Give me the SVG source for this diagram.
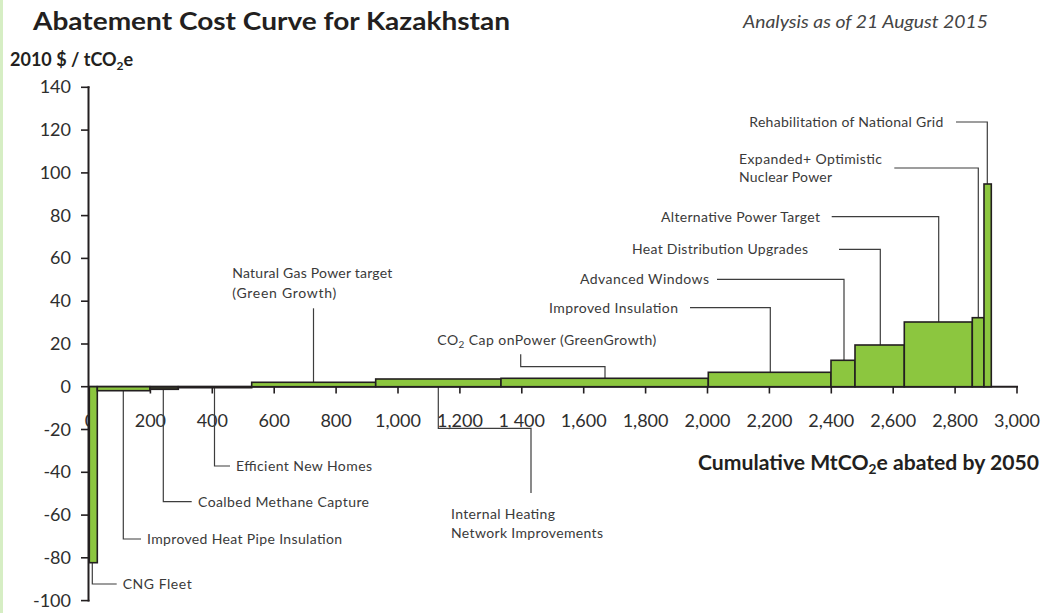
<svg xmlns="http://www.w3.org/2000/svg" width="1049" height="613" viewBox="0 0 1049 613">
<style>
.bar{fill:#8cc63f;stroke:#231f20;stroke-width:1.6}
.axis{stroke:#231f20;stroke-width:2;fill:none}
.tick{stroke:#231f20;stroke-width:1.6}
.lead{stroke:#3d3d3d;stroke-width:1.2;fill:none}
.lbl{font-family:Lato,"Open Sans",sans-serif;font-size:14px;fill:#3a3a3a}
.num{font-family:Lato,"Open Sans",sans-serif;font-size:18px;fill:#2e2e2e}
.xn{text-anchor:middle}
.yn{text-anchor:end}
.bold{font-family:Lato,"Open Sans",sans-serif;font-weight:bold;fill:#231f20}
</style>
<rect x="0" y="0" width="1049" height="613" fill="#ffffff"/>
<rect x="0" y="0" width="3" height="613" fill="#d6eec4"/>

<g id="titles">
<text class="bold" x="33" y="30" font-size="25" textLength="477" lengthAdjust="spacingAndGlyphs">Abatement Cost Curve for Kazakhstan</text>
<text x="743" y="28" font-family="Lato,'Open Sans',sans-serif" font-style="italic" font-size="17" fill="#444" textLength="245" lengthAdjust="spacingAndGlyphs">Analysis as of 21 August 2015</text>
<text class="bold" x="10" y="66" font-size="18">2010 $ / tCO<tspan font-size="12" dy="4">2</tspan><tspan dy="-4">e</tspan></text>
<text class="bold" x="698" y="470" font-size="20" textLength="341" lengthAdjust="spacingAndGlyphs">Cumulative MtCO<tspan font-size="13" dy="4">2</tspan><tspan dy="-4">e abated by 2050</tspan></text>
</g>

<g id="y-axis">
<line class="axis" x1="88.5" y1="86.3" x2="88.5" y2="601.6"/>
<g class="tick">
<line x1="81" y1="87.3" x2="89.5" y2="87.3"/>
<line x1="81" y1="130.1" x2="88.5" y2="130.1"/>
<line x1="81" y1="172.9" x2="88.5" y2="172.9"/>
<line x1="81" y1="215.6" x2="88.5" y2="215.6"/>
<line x1="81" y1="258.4" x2="88.5" y2="258.4"/>
<line x1="81" y1="301.2" x2="88.5" y2="301.2"/>
<line x1="81" y1="344" x2="88.5" y2="344"/>
<line x1="81" y1="386.7" x2="88.5" y2="386.7"/>
<line x1="81" y1="429.5" x2="88.5" y2="429.5"/>
<line x1="81" y1="472.3" x2="88.5" y2="472.3"/>
<line x1="81" y1="515.1" x2="88.5" y2="515.1"/>
<line x1="81" y1="557.8" x2="88.5" y2="557.8"/>
<line x1="81" y1="600.6" x2="89.5" y2="600.6"/>
</g>
<g class="num yn">
<text x="71" y="93">140</text>
<text x="71" y="136">120</text>
<text x="71" y="179">100</text>
<text x="71" y="222">80</text>
<text x="71" y="264">60</text>
<text x="71" y="307">40</text>
<text x="71" y="350">20</text>
<text x="71" y="393">0</text>
<text x="71" y="436">-20</text>
<text x="71" y="478">-40</text>
<text x="71" y="521">-60</text>
<text x="71" y="564">-80</text>
<text x="71" y="607">-100</text>
</g>
</g>

<g id="x-axis">
<g class="num xn">
<text x="90" y="427">0</text>
<text x="150.4" y="427">200</text>
<text x="212.3" y="427">400</text>
<text x="274.2" y="427">600</text>
<text x="336.1" y="427">800</text>
<text x="398" y="427">1,000</text>
<text x="459.9" y="427">1,200</text>
<text x="521.8" y="427">1 400</text>
<text x="583.7" y="427">1,600</text>
<text x="645.6" y="427">1,800</text>
<text x="707.5" y="427">2,000</text>
<text x="769.4" y="427">2,200</text>
<text x="831.3" y="427">2,400</text>
<text x="893.2" y="427">2,600</text>
<text x="955.1" y="427">2,800</text>
<text x="1017" y="427">3,000</text>
</g>
<g class="tick">
<line x1="150.4" y1="386.7" x2="150.4" y2="393.5"/>
<line x1="212.3" y1="386.7" x2="212.3" y2="393.5"/>
<line x1="274.2" y1="386.7" x2="274.2" y2="393.5"/>
<line x1="336.1" y1="386.7" x2="336.1" y2="393.5"/>
<line x1="398" y1="386.7" x2="398" y2="393.5"/>
<line x1="459.9" y1="386.7" x2="459.9" y2="393.5"/>
<line x1="521.8" y1="386.7" x2="521.8" y2="393.5"/>
<line x1="583.7" y1="386.7" x2="583.7" y2="393.5"/>
<line x1="645.6" y1="386.7" x2="645.6" y2="393.5"/>
<line x1="707.5" y1="386.7" x2="707.5" y2="393.5"/>
<line x1="769.4" y1="386.7" x2="769.4" y2="393.5"/>
<line x1="831.3" y1="386.7" x2="831.3" y2="393.5"/>
<line x1="893.2" y1="386.7" x2="893.2" y2="393.5"/>
<line x1="955.1" y1="386.7" x2="955.1" y2="393.5"/>
<line x1="1017" y1="386.7" x2="1017" y2="393.5"/>
</g>
</g>

<g id="connectors">
<polyline class="lead" points="92.3,562.7 92.3,584 116.7,584"/>
<polyline class="lead" points="123.3,390.7 123.3,539 141,539"/>
<polyline class="lead" points="163.3,389.3 163.3,501.7 191.7,501.7"/>
<polyline class="lead" points="214.5,387.7 214.5,466 230,466"/>
<polyline class="lead" points="313.5,382.3 313.5,308.3"/>
<polyline class="lead" points="438.3,386.7 438.3,428.3 531,428.3 531,493"/>
<polyline class="lead" points="520.7,354.3 520.7,366.7 605,366.7 605,378.3"/>
<polyline class="lead" points="690,307.7 770.3,307.7 770.3,372.3"/>
<polyline class="lead" points="717,279.3 844,279.3 844,360.3"/>
<polyline class="lead" points="839,249.3 880.3,249.3 880.3,345"/>
<polyline class="lead" points="831.7,216.7 938.7,216.7 938.7,322"/>
<polyline class="lead" points="894.3,168 978.3,168 978.3,317.7"/>
<polyline class="lead" points="956,122 987.3,122 987.3,184"/>
</g>

<line class="axis" x1="88.5" y1="386.7" x2="1018" y2="386.7"/>

<g id="cng-fleet">
<rect class="bar" x="89.3" y="386.7" width="8" height="176"/>
<text class="lbl" x="122.7" y="589" textLength="69">CNG Fleet</text>
</g>
<g id="improved-heat-pipe-insulation">
<rect class="bar" x="97.3" y="386.7" width="52.7" height="4"/>
<text class="lbl" x="147" y="544" textLength="195">Improved Heat Pipe Insulation</text>
</g>
<g id="coalbed-methane-capture">
<rect class="bar" x="150" y="386.7" width="28.3" height="2.6" style="fill:#3a3f2a"/>
<text class="lbl" x="198" y="507" textLength="171">Coalbed Methane Capture</text>
</g>
<g id="efficient-new-homes">
<rect class="bar" x="178.3" y="386.7" width="73.4" height="1" style="fill:#231f20"/>
<text class="lbl" x="236" y="471" textLength="136">Efficient New Homes</text>
</g>
<g id="natural-gas-power-target">
<rect class="bar" x="251.7" y="382.3" width="124" height="4.4"/>
<text class="lbl" x="232.3" y="278.3" textLength="160">Natural Gas Power target</text>
<text class="lbl" x="232.3" y="298.3" textLength="104">(Green Growth)</text>
</g>
<g id="internal-heating-network">
<rect class="bar" x="375.7" y="379" width="125.3" height="7.7"/>
<text class="lbl" x="451" y="519" textLength="104">Internal Heating</text>
<text class="lbl" x="451" y="538" textLength="152">Network Improvements</text>
</g>
<g id="co2-cap-on-power">
<rect class="bar" x="501" y="378.3" width="207.3" height="8.4"/>
<text class="lbl" x="437.3" y="345" textLength="219">CO<tspan font-size="10" dy="3">2</tspan><tspan dy="-3"> Cap onPower (GreenGrowth)</tspan></text>
</g>
<g id="improved-insulation">
<rect class="bar" x="708.3" y="372.3" width="122.7" height="14.4"/>
<text class="lbl" x="549" y="312.7" textLength="129">Improved Insulation</text>
</g>
<g id="advanced-windows">
<rect class="bar" x="831" y="360.3" width="24" height="26.4"/>
<text class="lbl" x="580" y="284" textLength="129">Advanced Windows</text>
</g>
<g id="heat-distribution-upgrades">
<rect class="bar" x="855" y="345" width="49.3" height="41.7"/>
<text class="lbl" x="632" y="254" textLength="176">Heat Distribution Upgrades</text>
</g>
<g id="alternative-power-target">
<rect class="bar" x="904.3" y="322" width="68" height="64.7"/>
<text class="lbl" x="661" y="221.7" textLength="159">Alternative Power Target</text>
</g>
<g id="expanded-optimistic-nuclear">
<rect class="bar" x="972.3" y="317.7" width="11.7" height="69"/>
<text class="lbl" x="739" y="164" textLength="143">Expanded+ Optimistic</text>
<text class="lbl" x="739" y="181.7" textLength="93">Nuclear Power</text>
</g>
<g id="rehabilitation-national-grid">
<rect class="bar" x="984" y="184" width="7.3" height="202.7"/>
<text class="lbl" x="749.3" y="126.7" textLength="194">Rehabilitation of National Grid</text>
</g>
</svg>
